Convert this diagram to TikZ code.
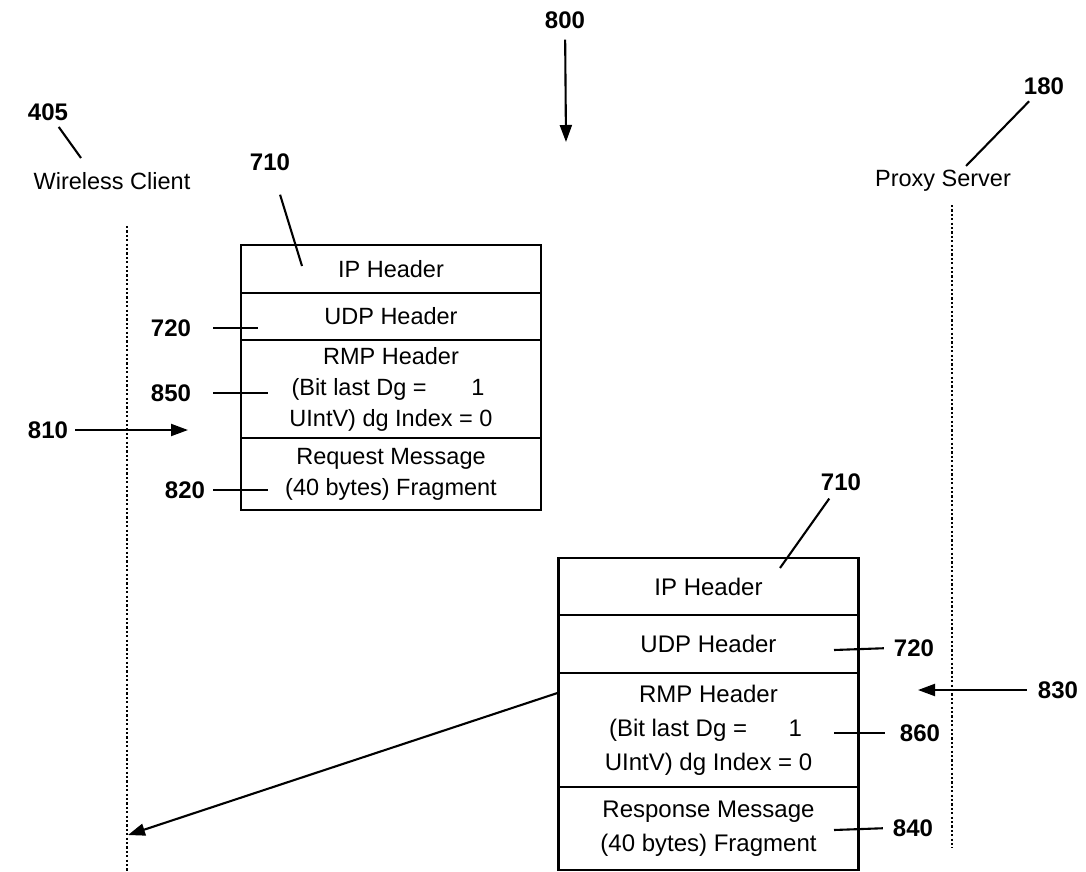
\documentclass[tikz,border=0pt]{standalone}
\usepackage{fontspec}
\setmainfont{Liberation Sans}
\usetikzlibrary{arrows.meta}
\newcommand{\bitlineA}{\hbox to 199pt{(Bit last Dg =\hfill 1\hspace*{6pt}}}
\begin{document}
\begin{tikzpicture}[x=1pt,y=-1pt,
  every node/.style={font=\fontsize{23.5}{31}\selectfont},
  cell/.style={draw, line width=2.1pt, minimum width=300pt, inner sep=0pt, align=center},
  cellb/.style={cell, font=\fontsize{24}{34}\selectfont},
  num/.style={font=\fontsize{24}{28}\selectfont\bfseries, inner sep=3pt},
  lead/.style={line width=2.1pt},
  arr/.style={line width=2.1pt, -{Triangle[length=17pt,width=12pt]}},
  life/.style={line width=2.6pt, dash pattern=on 2.2pt off 2.2pt}
]
\useasboundingbox (0,0) rectangle (1086,872);

% lifelines
\coordinate (wcTop) at (127,226);
\coordinate (wcBot) at (127,872);
\coordinate (psTop) at (952,205);
\coordinate (psBot) at (952,848);
\draw[life] (wcTop) -- (wcBot);
\draw[life] (psTop) -- (psBot);

% top labels
\node[num] (n800) at (565,20) {800};
\coordinate (a800) at (566,142);
\draw[arr, shorten <=8pt] (n800) -- (a800);

\node[num] (n405) at (48,112) {405};
\coordinate (c405) at (81,158);
\draw[lead, shorten <=4pt] (n405) -- (c405);
\node (wc) at (112,181) {Wireless Client};

\node[num] (n180) at (1044,86) {180};
\coordinate (c180) at (966,166);
\draw[lead, shorten <=5pt] (n180) -- (c180);
\node (ps) at (943,181) {Proxy Server};

% request packet (box 1)
\node[cell, minimum height=48pt] (ip1) at (391,269) {IP Header};
\node[cell, minimum height=47pt] (udp1) at (391,316.5) {UDP Header};
\node[cell, minimum height=98pt] (rmp1) at (391,389) {RMP Header\\\bitlineA\\UIntV) dg Index = 0};
\node[cell, minimum height=72pt] (req1) at (391,474) {Request Message\\(40 bytes) Fragment};

\node[num] (n710a) at (270,162) {710};
\coordinate (c710a) at (302,266);
\draw[lead, shorten <=22pt] (n710a) -- (c710a);

\node[num] (n720a) at (171,328) {720};
\coordinate (c720a) at (258,328);
\draw[lead, shorten <=19pt] (n720a.east) -- (c720a);

\node[num] (n850) at (171,393) {850};
\coordinate (c850) at (268,393);
\draw[lead, shorten <=19pt] (n850.east) -- (c850);

\node[num] (n810) at (48,430) {810};
\coordinate (a810) at (188,430);
\draw[arr, shorten <=4pt] (n810.east) -- (a810);

\node[num] (n820) at (185,490) {820};
\coordinate (c820) at (268,490);
\draw[lead, shorten <=5pt] (n820.east) -- (c820);

% response packet (box 2)
\node[cellb, minimum height=57pt] (ip2) at (708.5,586.5) {IP Header};
\node[cellb, minimum height=58pt] (udp2) at (708.5,644) {UDP Header};
\node[cellb, minimum height=114pt] (rmp2) at (708.5,730) {RMP Header\\\bitlineA\\UIntV) dg Index = 0};
\node[cellb, minimum height=83pt] (resp2) at (708.5,828.5) {Response Message\\(40 bytes) Fragment};

\node[num] (n710b) at (841,482) {710};
\coordinate (c710b) at (780,568);
\draw[lead, shorten <=6pt] (n710b) -- (c710b);

\node[num] (n720b) at (914,648) {720};
\coordinate (c720b) at (834,650);
\draw[lead, shorten <=7pt] (n720b.west) -- (c720b);

\node[num] (n860) at (920,733) {860};
\coordinate (c860) at (834,733);
\draw[lead, shorten <=12pt] (n860.west) -- (c860);

\node[num] (n840) at (913,828) {840};
\coordinate (c840) at (834,830);
\draw[lead, shorten <=7pt] (n840.west) -- (c840);

\node[num] (n830) at (1058,690) {830};
\coordinate (a830) at (918,690);
\draw[arr, shorten <=8pt] (n830.west) -- (a830);

% response message sent to client
\coordinate (wcHit) at (128,835);
\draw[arr] ([yshift=37pt]rmp2.west) -- (wcHit);
\end{tikzpicture}
\end{document}
